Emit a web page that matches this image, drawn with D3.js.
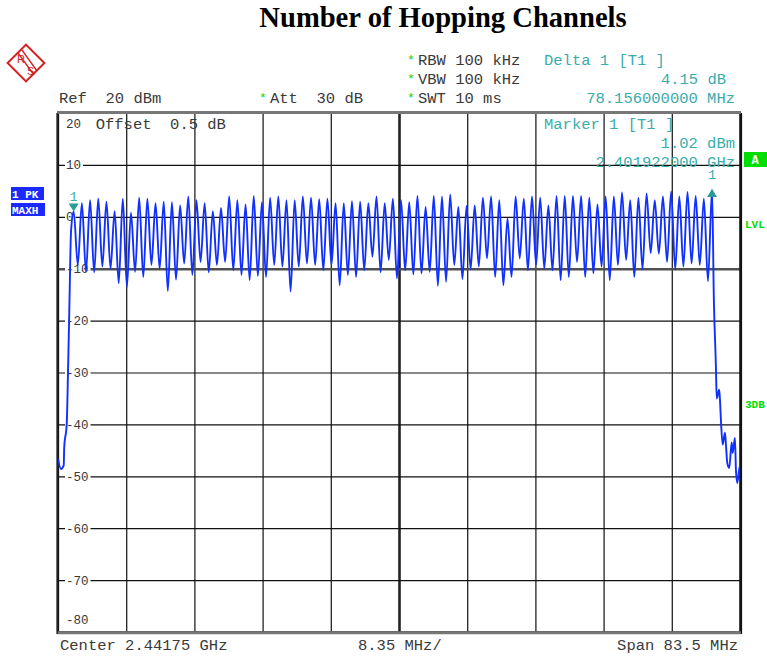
<!DOCTYPE html>
<html><head><meta charset="utf-8">
<script src="https://cdn.jsdelivr.net/npm/d3@7/dist/d3.min.js"></script>
<style>
html,body{margin:0;padding:0;background:#fff;}
svg{display:block;}
</style></head>
<body>
<svg id="chart" width="767" height="657"></svg>
<script>
// ---------------- DATA ----------------
const title = "Number of Hopping Channels";
const startMHz = 2400, stopMHz = 2483.5;
const refLevel = 20, bottomLevel = -80;
const freqGridMHz = [2400, 2408.35, 2416.7, 2425.05, 2433.4, 2441.75, 2450.1, 2458.45, 2466.8, 2475.15, 2483.5];
const levelTicks = [20, 10, 0, -10, -20, -30, -40, -50, -60, -70, -80];

// hopping channels (79), marker 1 on first, delta 1 on last
const channelFirstMHz = 2401.922;
const channelStepMHz = 1.002;
const channelPeaks = [
  1.02, 2.6, 3.2, 3.5, 2.9, 1.1, 3.5, 0.8, 3.7, 3.5, 2.6, 2.9, 2.8, 2.2, 3.9, 3.2, 2.6, 1.1, 1.7, 3.9,
  3.2, 2.4, 4.0, 2.8, 3.7, 3.9, 3.2, 3.2, 3.9, 3.7, 3.4, 3.5, 2.6, 2.6, 3.0, 2.9, 2.6, 3.9, 2.6, 3.5,
  3.2, 2.8, 4.0, 1.9, 4.0, 3.9, 4.3, 1.9, 2.1, 2.2, 3.7, 3.9, 3.2, -0.3, 3.9, 3.5, 3.9, 3.7, 2.2, 4.0,
  4.0, 4.0, 4.0, 3.7, 2.4, 3.9, 3.9, 4.7, 3.2, 3.7, 4.5, 3.2, 3.9, 4.9, 3.9, 4.8, 4.0, 3.5, 5.17
];
const channelValleys = [
  -9.3, -10.6, -10.7, -9.6, -10, -12.8, -13.5, -10.6, -11.6, -9.3, -10, -14.3, -12.1, -9, -11.2, -8.7, -10.7, -9.3, -8.7,
  -10.3, -11.2, -12.2, -11.4, -11.6, -9.3, -9.6, -14.4, -9.6, -9.0, -9.3, -10.3, -9.3, -13.2, -11.2, -11.6, -10.3, -7.7, -10.7, -8.3,
  -11.9, -10.3, -11.1, -10.9, -10.6, -13.3, -12.5, -9.3, -12.0, -10.1, -9.6, -8.0, -11.6, -13.2, -11.6, -8.0, -10.3, -9.3, -10.0, -10.3,
  -12.2, -11.6, -8.7, -11.6, -10.9, -9.6, -12.2, -9.3, -8.3, -11.6, -10.1, -7.0, -7.1, -8.7, -10.1, -9.6, -9.0, -9.3, -12.4
];
// band edges
const leftEdgeMHz   = [2400.0, 2400.37, 2400.70, 2400.76, 2401.07, 2401.22, 2401.41, 2401.59];
const leftEdgeLevel = [-46.6, -48.6, -47.9, -44.5, -39.9, -30.4, -16, -3];
const rightEdgeMHz   = [2480.30, 2480.55, 2480.65, 2480.95, 2481.05, 2481.15, 2481.38, 2481.66, 2481.78, 2481.94, 2482.19, 2482.48, 2482.60, 2482.88, 2483.0, 2483.16, 2483.40, 2483.5];
const rightEdgeLevel = [-16, -28.8, -35, -33.3, -35.3, -38.7, -43.9, -41.6, -43.9, -47.4, -48.4, -43.5, -45.5, -42.6, -48.7, -51.3, -48.7, -48];

const marker1 = {f: 2401.922, v: 1.02};
const delta1 = {f: 2480.078, v: 5.17};

// ---------------- LAYOUT ----------------
const svg = d3.select("#chart");
const L = 58, R = 740, T = 113, B = 632;
const x = d3.scaleLinear().domain([startMHz, stopMHz]).range([L, R]);
const y = d3.scaleLinear().domain([bottomLevel, refLevel]).range([B, T]);

const mono = '"Liberation Mono","Courier New",monospace';
const txtCol = "#3a3a3a", teal = "#3aacac", green = "#00dd00", starGreen = "#22cc22";

// title
svg.append("text").attr("x", 443).attr("y", 27).attr("text-anchor", "middle")
  .attr("font-family", '"Liberation Serif","Times New Roman",serif').attr("font-weight", "bold")
  .attr("font-size", 28.6).attr("fill", "#000").text(title);

// R&S logo
const red = "#d42020";
const logo = svg.append("g").attr("transform", "translate(26,63)");
logo.append("rect").attr("x", -13).attr("y", -13).attr("width", 26).attr("height", 26)
  .attr("transform", "rotate(45)").attr("fill", "none").attr("stroke", red).attr("stroke-width", 2);
logo.append("line").attr("x1", -8).attr("y1", -10).attr("x2", 8).attr("y2", 12).attr("stroke", red).attr("stroke-width", 1.3);
logo.append("line").attr("x1", -4).attr("y1", -13).attr("x2", 11).attr("y2", 8).attr("stroke", red).attr("stroke-width", 1.3);
logo.append("text").attr("x", -9).attr("y", 0).attr("font-family", "Liberation Sans,Arial,sans-serif")
  .attr("font-size", 11).attr("fill", red).text("R");
logo.append("text").attr("x", 1).attr("y", 12).attr("font-family", "Liberation Sans,Arial,sans-serif")
  .attr("font-size", 11).attr("fill", red).text("S");

// header texts
function t(xp, yp, s, opts = {}) {
  return svg.append("text").attr("x", xp).attr("y", yp)
    .attr("font-family", mono).attr("font-size", opts.size || 15.5)
    .attr("fill", opts.fill || txtCol).attr("text-anchor", opts.anchor || "start")
    .attr("font-weight", opts.weight || "normal")
    .style("white-space", "pre").text(s);
}
function star(xp, yp) { t(xp, yp - 1, "*", {fill: starGreen, size: 13}); }
star(407, 65); t(418, 65, "RBW 100 kHz");
star(407, 84); t(418, 84, "VBW 100 kHz");
star(407, 103); t(418, 103, "SWT 10 ms");
t(59, 103, "Ref  20 dBm");
star(259, 103); t(270, 103, "Att  30 dB");
t(544, 65, "Delta 1 [T1 ]", {fill: teal});
t(726, 84, "4.15 dB", {fill: teal, anchor: "end"});
t(735, 103, "78.156000000 MHz", {fill: teal, anchor: "end"});

// ---------------- GRID ----------------
const gridG = svg.append("g");
gridG.append("g").attr("transform", `translate(0,${B})`)
  .call(d3.axisBottom(x).tickValues(freqGridMHz).tickSize(-(B - T)).tickFormat(""))
  .call(g => g.select(".domain").remove())
  .call(g => g.selectAll(".tick line").attr("stroke", "#222").attr("stroke-width", d => d === 2441.75 ? 2.6 : 1.3));
gridG.append("g").attr("transform", `translate(${L},0)`)
  .call(d3.axisLeft(y).tickValues(levelTicks).tickSize(-(R - L)).tickFormat(""))
  .call(g => g.select(".domain").remove())
  .call(g => g.selectAll(".tick line").attr("stroke", d => d === -10 ? "#505050" : "#111")
    .attr("stroke-width", d => d === -10 ? 2.6 : 1.2));

// frame
svg.append("rect").attr("x", L).attr("y", T).attr("width", R - L).attr("height", B - T)
  .attr("fill", "none").attr("stroke", "#111").attr("stroke-width", 1.5);
svg.append("line").attr("x1", L - 1).attr("x2", R + 1).attr("y1", T - 0.5).attr("y2", T - 0.5).attr("stroke", "#777").attr("stroke-width", 3);
svg.append("line").attr("x1", L - 1).attr("x2", R + 1).attr("y1", B + 0.8).attr("y2", B + 0.8).attr("stroke", "#777").attr("stroke-width", 3);
svg.append("line").attr("x1", L - 1).attr("x2", L - 1).attr("y1", T).attr("y2", B + 2).attr("stroke", "#111").attr("stroke-width", 1.2);
svg.append("line").attr("x1", R + 1.5).attr("x2", R + 1.5).attr("y1", T).attr("y2", B + 2).attr("stroke", "#111").attr("stroke-width", 1.2);

// y labels (inside plot, with white background)
const labG = svg.append("g");
levelTicks.forEach(v => {
  let by = y(v) + 4.5;
  if (v === refLevel) by = y(v) + 15;
  if (v === bottomLevel) by = y(v) - 8;
  const tx = labG.append("text").attr("x", 66).attr("y", by).attr("font-family", mono)
    .attr("font-size", 12.5).attr("fill", txtCol).text(String(v));
  const w = tx.node().getComputedTextLength();
  if (v !== refLevel && v !== bottomLevel) {
    labG.insert("rect", "text").attr("x", 65).attr("y", y(v) - 2).attr("width", w + 3).attr("height", 4).attr("fill", "#fff");
  }
});
t(95.7, 128.5, "Offset  0.5 dB");
t(544, 129, "Marker 1 [T1 ]", {fill: teal});
t(735, 148, "1.02 dBm", {fill: teal, anchor: "end"});
t(735, 167, "2.401922000 GHz", {fill: teal, anchor: "end"});

// ---------------- TRACE ----------------
const pts = [];
leftEdgeMHz.forEach((f, i) => pts.push([f, leftEdgeLevel[i]]));
channelPeaks.forEach((p, k) => {
  const fc = channelFirstMHz + k * channelStepMHz;
  pts.push([fc, p]);
  if (k < channelValleys.length) pts.push([fc + channelStepMHz / 2, channelValleys[k]]);
});
rightEdgeMHz.forEach((f, i) => pts.push([f, rightEdgeLevel[i]]));

const line = d3.line().x(d => x(d[0])).y(d => y(d[1])).curve(d3.curveMonotoneX);
svg.append("defs").append("clipPath").attr("id", "clip").append("rect")
  .attr("x", L).attr("y", T).attr("width", R - L).attr("height", B - T);
svg.append("path").datum(pts).attr("d", line).attr("fill", "none")
  .attr("stroke", "#1030ff").attr("stroke-width", 1.9).attr("stroke-linejoin", "round")
  .attr("clip-path", "url(#clip)");

// markers
const mx = x(marker1.f), my = y(marker1.v);
svg.append("path").attr("d", `M${mx - 5},${my - 8} L${mx + 5},${my - 8} L${mx},${my} Z`).attr("fill", "#2a9a9a");
t(mx, my - 11, "1", {fill: teal, size: 13, anchor: "middle"});
const dx = x(delta1.f), dy = y(delta1.v);
svg.append("path").attr("d", `M${dx - 5},${dy + 7} L${dx + 5},${dy + 7} L${dx},${dy - 1} Z`).attr("fill", "#2a9a9a");
t(dx, dy - 11, "1", {fill: teal, size: 13, anchor: "middle"});

// side boxes
function box(x0, y0, w, h, fill, label, tx, ty, size) {
  svg.append("rect").attr("x", x0).attr("y", y0).attr("width", w).attr("height", h).attr("fill", fill);
  svg.append("text").attr("x", tx).attr("y", ty).attr("font-family", mono).attr("font-weight", "bold")
    .attr("font-size", size).attr("fill", "#fff").style("white-space", "pre").text(label);
}
box(11, 187, 33, 13, "#1a2aff", "1 PK", 12, 197.5, 11);
box(11, 203, 34, 13, "#1a2aff", "MAXH", 12, 213.5, 11);
box(744, 152, 23, 15, green, "A", 751.5, 164, 12);
svg.append("text").attr("x", 745).attr("y", 228).attr("font-family", mono).attr("font-weight", "bold")
  .attr("font-size", 11).attr("fill", green).text("LVL");
svg.append("text").attr("x", 745).attr("y", 408).attr("font-family", mono).attr("font-weight", "bold")
  .attr("font-size", 11).attr("fill", green).text("3DB");

// bottom texts
t(60, 650, "Center 2.44175 GHz");
t(358, 650, "8.35 MHz/");
t(738, 650, "Span 83.5 MHz", {anchor: "end"});
</script>
</body></html>
